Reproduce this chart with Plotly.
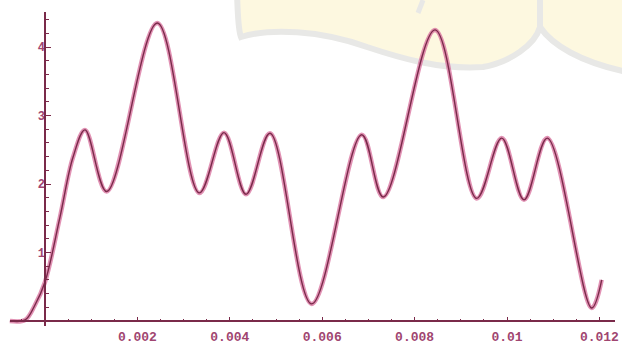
import plotly.graph_objects as go

# ---- data ----
x_vals = [-0.00076, -0.00043, -0.00022, 0.0, 0.000325, 0.000606, 0.000866,
          0.001335, 0.002431, 0.00334, 0.003874, 0.004351, 0.00487,
          0.005773, 0.006855, 0.007323, 0.008442, 0.009344, 0.009885,
          0.010368, 0.010872, 0.011833, 0.01205]
y_vals = [0.0, 0.015, 0.23, 0.57, 1.52, 2.39, 2.79,
          1.89, 4.35, 1.87, 2.75, 1.85, 2.74,
          0.25, 2.72, 1.81, 4.25, 1.79, 2.67,
          1.77, 2.67, 0.19, 0.60]

x_tick_vals = [0.002, 0.004, 0.006, 0.008, 0.01, 0.012]
x_tick_text = ["0.002", "0.004", "0.006", "0.008", "0.01", "0.012"]
y_tick_vals = [1, 2, 3, 4]
y_tick_text = ["1", "2", "3", "4"]
y_minor_vals = [0.2, 0.4, 0.6, 0.8, 1.2, 1.4, 1.6, 1.8, 2.2, 2.4, 2.6, 2.8,
                3.2, 3.4, 3.6, 3.8, 4.2, 4.4]

W, H = 622, 350
X0PX, XSCALE = 45, 46200.0
Y0PX, YSCALE = 321, 68.5

x_range = [(0 - X0PX) / XSCALE, (W - X0PX) / XSCALE]
y_range = [(Y0PX - H) / YSCALE, Y0PX / YSCALE]

ink = "#7a2a4a"
halo = "rgba(215,110,155,0.75)"
label_col = "#a04570"

fig = go.Figure()
fig.add_trace(go.Scatter(x=x_vals, y=y_vals, mode="lines",
                         line=dict(color=halo, width=4.5, shape="spline", smoothing=1.0),
                         hoverinfo="skip", showlegend=False))
fig.add_trace(go.Scatter(x=x_vals, y=y_vals, mode="lines",
                         line=dict(color=ink, width=1.4, shape="spline", smoothing=1.0),
                         showlegend=False))


def P(px, py):
    return f"{px / W:.5f},{1 - py / H:.5f}"


# faint watermark in the background
main_lobe = ("M " + P(237, -5) + " C " + P(238, 15) + " " + P(238, 30) + " " + P(241, 37)
             + " C " + P(270, 28) + " " + P(320, 30) + " " + P(367, 47)
             + " C " + P(400, 58) + " " + P(440, 70) + " " + P(483, 67)
             + " C " + P(510, 62) + " " + P(535, 45) + " " + P(540, 27)
             + " L " + P(540, -5) + " Z")
right_lobe = ("M " + P(540, -5) + " L " + P(540, 27)
              + " C " + P(552, 45) + " " + P(580, 62) + " " + P(627, 72)
              + " L " + P(627, -5) + " Z")
shapes = [
    dict(type="path", path=main_lobe, xref="paper", yref="paper",
         fillcolor="#fdf8e0", line=dict(color="#e8e8e6", width=6), layer="below"),
    dict(type="path", path=right_lobe, xref="paper", yref="paper",
         fillcolor="#fdf8e0", line=dict(color="#e8e8e6", width=6), layer="below"),
    dict(type="line", xref="paper", yref="paper",
         x0=423 / W, y0=1.0, x1=418 / W, y1=1 - 13 / H,
         line=dict(color="#e8e8e6", width=5), layer="below"),
    # axis lines
    dict(type="line", xref="x", yref="y", x0=(10 - X0PX) / XSCALE, x1=(615 - X0PX) / XSCALE,
         y0=0, y1=0, line=dict(color=ink, width=2)),
    dict(type="line", xref="x", yref="y", x0=0, x1=0,
         y0=(Y0PX - 326) / YSCALE, y1=(Y0PX - 12) / YSCALE, line=dict(color=ink, width=2)),
]

fig.update_layout(
    width=W, height=H,
    margin=dict(l=0, r=0, t=0, b=0, autoexpand=False),
    paper_bgcolor="white", plot_bgcolor="rgba(0,0,0,0)",
    shapes=shapes,
    xaxis=dict(range=x_range, domain=[0, 1], anchor="free", position=(H - Y0PX) / H,
               showgrid=False, zeroline=False, showline=False,
               tickmode="array", tickvals=x_tick_vals, ticktext=x_tick_text,
               ticks="inside", ticklen=4, tickcolor=ink, tickwidth=1,
               ticklabelstandoff=6,
               minor=dict(tick0=0, dtick=0.0005, ticks="inside", ticklen=2,
                          tickcolor=ink, showgrid=False),
               tickfont=dict(family="Liberation Mono", size=13, color=label_col, weight="bold")),
    yaxis=dict(range=y_range, domain=[0, 1], anchor="free", position=X0PX / W,
               showgrid=False, zeroline=False, showline=False,
               tickmode="array", tickvals=y_tick_vals, ticktext=y_tick_text,
               ticks="inside", ticklen=5, tickcolor=ink, tickwidth=1,
               minor=dict(tickmode="array", tickvals=y_minor_vals, ticks="inside", ticklen=3,
                          tickcolor=ink, showgrid=False),
               tickfont=dict(family="Liberation Mono", size=12, color=label_col, weight="bold")),
)

fig.write_html("out.html", config={"displayModeBar": False},
               post_script="document.body.style.margin='0';document.body.style.overflow='hidden';")
